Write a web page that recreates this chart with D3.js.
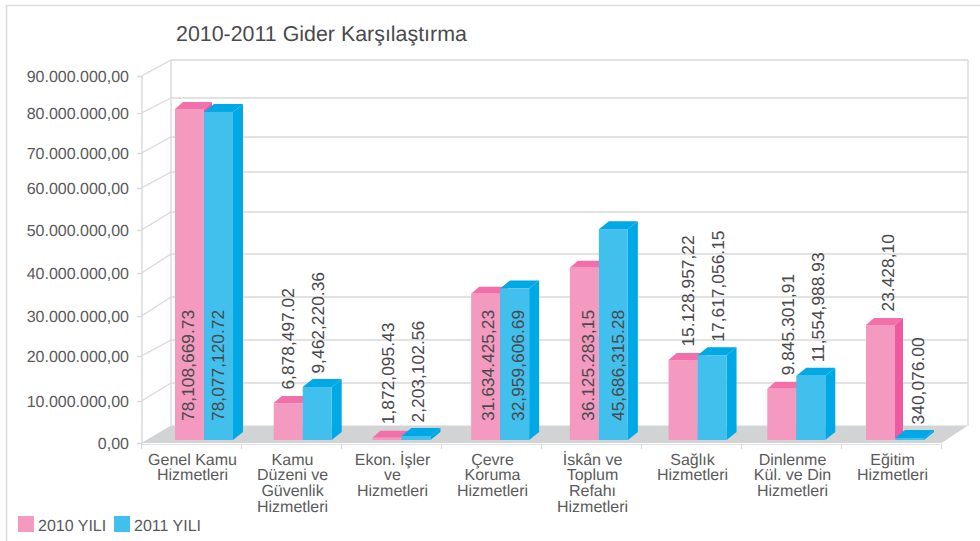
<!DOCTYPE html>
<html><head><meta charset="utf-8">
<script src="https://cdn.jsdelivr.net/npm/d3@7"></script>
<style>
html,body{margin:0;padding:0;background:#fff}
svg{display:block}
text{font-family:"Liberation Sans",Arial,sans-serif;fill:#5a5a5c;text-rendering:geometricPrecision}
</style></head><body><svg id="c" width="980" height="541"></svg>
<script>
const title = "2010-2011 Gider Karşılaştırma";
const categories = ["Genel Kamu","Kamu","Ekon","Cevre","Iskan","Saglik","Dinlenme","Egitim"];
const categoryLines = [
  ["Genel Kamu","Hizmetleri"],
  ["Kamu","Düzeni ve","Güvenlik","Hizmetleri"],
  ["Ekon. İşler","ve","Hizmetleri"],
  ["Çevre","Koruma","Hizmetleri"],
  ["İskân ve","Toplum","Refahı","Hizmetleri"],
  ["Sağlık","Hizmetleri"],
  ["Dinlenme","Kül. ve Din","Hizmetleri"],
  ["Eğitim","Hizmetleri"]
];
const seriesNames = ["2010 YILI","2011 YILI"];
// drawn bar heights, read against the axis
const drawn2010 = [81.1e6,9.5e6,1.26e6,35.2e6,41.2e6,19.1e6,12.7e6,27.75e6];
const drawn2011 = [80.3e6,13.1e6,1.67e6,36.4e6,50.2e6,20.2e6,15.6e6,1.2e6];
// data labels as printed
const labels2010 = ["78,108,669.73","6,878,497.02","1,872,095.43","31.634.425,23","36.125.283,15","15.128.957,22","9.845.301,91","23.428,10"];
const labels2011 = ["78,077,120.72","9,462,220.36","2,203,102.56","32,959,606.69","45,686,315.28","17,617,056.15","11,554,988.93","340,076.00"];
const yTicks = [0,10e6,20e6,30e6,40e6,50e6,60e6,70e6,80e6,90e6];

const svg = d3.select("#c");
const grid = "#d9d9da";
const trFormat = d3.formatLocale({decimal:",",thousands:".",grouping:[3],currency:["",""]}).format(",.2f");

// The reference's axis is unevenly spaced, so both planes are piecewise scales.
const yFront = d3.scaleLinear().domain(yTicks).range([443,401,356,316,273,230,188,153,113,76]);
const yBack  = d3.scaleLinear().domain(yTicks).range([425.5,383,340,297,254,212,172,137,98,60]);
const xAxisScale = d3.scaleBand().domain(categories).range([141.5,941.5]);
const xBars = d3.scalePoint().domain(categories).range([175,866]);
const barBase = yFront(0) - 3;

// frame
svg.append("path").attr("d","M6.5,541V5.5H980").attr("fill","none").attr("stroke","#dcddde").attr("stroke-width",1.6);

// title
svg.append("text").attr("x",176).attr("y",41).attr("font-size",21.4).style("fill","#4a4a4c").text(title);

// walls
const backL = 171, backR = 968;
const g = svg.append("g").attr("stroke",grid).attr("stroke-width",1.4).attr("fill","none");
g.selectAll("line.h").data(yTicks.slice(1)).join("line").attr("class","h")
  .attr("x1",backL).attr("x2",backR).attr("y1",d=>yBack(d)).attr("y2",d=>yBack(d));
g.selectAll("line.s").data(yTicks.slice(1)).join("line").attr("class","s")
  .attr("x1",xAxisScale.range()[0]).attr("x2",backL).attr("y1",d=>yFront(d)).attr("y2",d=>yBack(d));
g.append("line").attr("x1",backL).attr("x2",backL).attr("y1",yBack(90e6)).attr("y2",yBack(0));
g.append("line").attr("x1",backR).attr("x2",backR).attr("y1",yBack(90e6)).attr("y2",yBack(0));

// floor
const fl = xAxisScale.range()[0], fr = xAxisScale.range()[1];
svg.append("path").attr("fill","#d1d3d4")
  .attr("d",d3.line()([[fl,yFront(0)],[backL,yBack(0)],[backR,yBack(0)],[fr,yFront(0)]])+"Z");

// y axis
const yAxis = svg.append("g").attr("transform",`translate(${fl},0)`)
  .call(d3.axisLeft(yFront).tickValues(yTicks).tickSize(4.5).tickPadding(8).tickFormat(trFormat));
yAxis.selectAll("path,line").attr("stroke",grid).attr("stroke-width",1.4);
yAxis.selectAll("text").attr("font-size",16).attr("font-family",null);

// x axis
const xAxis = svg.append("g").attr("transform",`translate(0,${yFront(0)+1})`)
  .call(d3.axisBottom(xAxisScale).tickSize(0).tickFormat(""));
xAxis.selectAll("path").attr("stroke","#e2e3e4").attr("stroke-width",1.2);
xAxis.selectAll(".tick").remove();
svg.append("g").selectAll("line")
  .data(categories.map(c=>xAxisScale(c)).concat([fr])).join("line")
  .attr("x1",d=>d).attr("x2",d=>d).attr("y1",yFront(0)+1).attr("y2",yFront(0)+6)
  .attr("stroke",grid).attr("stroke-width",1.2);

// category labels
const cats = svg.append("g").selectAll("text").data(categories).join("text")
  .attr("text-anchor","middle").attr("font-size",16);
cats.selectAll("tspan").data((d,i)=>categoryLines[i]).join("tspan")
  .attr("x",function(){return xAxisScale(d3.select(this.parentNode).datum())+xAxisScale.bandwidth()/2+1;})
  .attr("y",(d,i)=>464.5+i*15.7).text(d=>d);

// bars
const barW = 29;
const styles = [
  {front:"#f49ac1",top:"#f26fa9",side:"#ee5a9f",dx:8,dy:7,off:0},
  {front:"#41c0ed",top:"#00a8e5",side:"#00a8e5",dx:10,dy:8,off:barW}
];
[drawn2010,drawn2011].forEach((vals,s)=>{
  const st = styles[s];
  const bars = svg.append("g").selectAll("g").data(categories).join("g");
  const left = c=>xBars(c)+st.off;
  const top = (c,i)=>yFront(vals[i]);
  bars.append("path").attr("fill",st.side).attr("d",(c,i)=>{
    const x=left(c)+barW,t=top(c,i);
    return d3.line()([[x,t],[x+st.dx,t-st.dy],[x+st.dx,barBase-st.dy],[x,barBase]])+"Z";});
  bars.append("path").attr("fill",st.top).attr("d",(c,i)=>{
    const x=left(c),t=top(c,i);
    return d3.line()([[x,t],[x+st.dx,t-st.dy],[x+barW+st.dx,t-st.dy],[x+barW,t]])+"Z";});
  bars.append("rect").attr("fill",st.front)
    .attr("x",left).attr("width",barW)
    .attr("y",top).attr("height",(c,i)=>barBase-top(c,i));
});

// data labels, rotated; tall bars carry them inside
const labelGap = 13.5, insideBase = 421, insideFrom = 30e6;
[[labels2010,drawn2010,46.5],[labels2011,drawn2011,76.5]].forEach(([txt,vals,off])=>{
  svg.append("g").selectAll("text").data(categories).join("text")
    .attr("font-size",17.4).attr("dy","0.35em").style("fill","#4a4a4c")
    .attr("transform",(c,i)=>{
      const y = vals[i]>=insideFrom ? insideBase : yFront(vals[i])-labelGap;
      return `translate(${xAxisScale(c)+off},${y}) rotate(-90)`;})
    .text((c,i)=>txt[i]);
});

// legend
const legendX = d3.scaleOrdinal().domain(seriesNames).range([18,114]);
const leg = svg.append("g").selectAll("g").data(seriesNames).join("g")
  .attr("transform",d=>`translate(${legendX(d)},516)`);
leg.append("rect").attr("width",16).attr("height",16).attr("fill",(d,i)=>styles[i].front);
leg.append("text").attr("x",20).attr("y",14.5).attr("font-size",16).text(d=>d);
</script></body></html>
